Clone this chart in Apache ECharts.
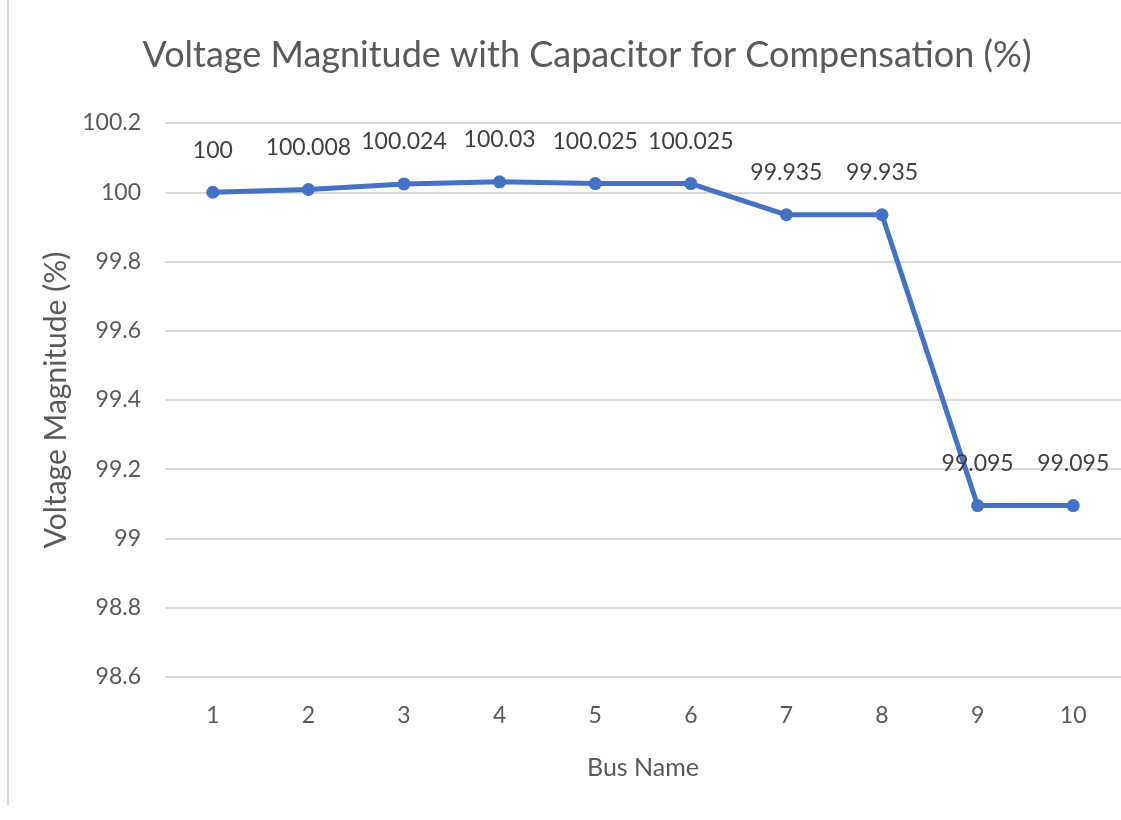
<!DOCTYPE html>
<html>
<head>
<meta charset="utf-8">
<script src="https://cdn.jsdelivr.net/npm/echarts@6/dist/echarts.min.js"></script>
<style>
html, body { margin: 0; padding: 0; background: #fff; }
#main { width: 1121px; height: 820px; }
</style>
</head>
<body>
<div id="main"></div>
<script>
var busNames = ['1', '2', '3', '4', '5', '6', '7', '8', '9', '10'];
var voltage = [100, 100.008, 100.024, 100.03, 100.025, 100.025, 99.935, 99.935, 99.095, 99.095];

var myChart = echarts.init(document.getElementById('main'));
var font = 'Lato, "Open Sans", sans-serif';

myChart.setOption({
    backgroundColor: '#fff',
    title: {
        text: 'Voltage Magnitude with Capacitor for Compensation (%)',
        left: 582,
        textAlign: 'center',
        top: 32,
        textStyle: { fontFamily: font, fontSize: 36, fontWeight: 'normal', color: '#595959' }
    },
    // 左侧细边框
    graphic: [{
        type: 'line',
        shape: { x1: 8, y1: 0, x2: 8, y2: 805 },
        style: { stroke: '#d9d9d9', lineWidth: 2 }
    }],
    grid: { left: 165, width: 960, top: 123, bottom: 143 },
    xAxis: {
        type: 'category',
        data: busNames,
        name: 'Bus Name',
        nameLocation: 'middle',
        nameGap: 78,
        nameTextStyle: { fontFamily: font, fontSize: 25, color: '#595959' },
        axisLine: { show: false },
        axisTick: { show: false },
        axisLabel: { fontFamily: font, fontSize: 23, color: '#595959', margin: 27 }
    },
    yAxis: {
        type: 'value',
        min: 98.6,
        max: 100.2,
        interval: 0.2,
        name: 'Voltage Magnitude (%)',
        nameLocation: 'middle',
        nameGap: 93,
        nameTextStyle: { fontFamily: font, fontSize: 30, color: '#595959' },
        axisLine: { show: false },
        axisTick: { show: false },
        axisLabel: {
            fontFamily: font, fontSize: 23, color: '#595959', margin: 24,
            formatter: function (v) { return String(+v.toFixed(1)); }
        },
        splitLine: { lineStyle: { color: '#d9d9d9', width: 2 } }
    },
    series: [{
        name: 'Voltage',
        type: 'line',
        data: voltage,
        symbol: 'circle',
        symbolSize: 13,
        itemStyle: { color: '#4472C4' },
        lineStyle: { color: '#4472C4', width: 5 },
        label: {
            show: true,
            position: 'top',
            distance: 24,
            fontFamily: font,
            fontSize: 23,
            color: '#404040'
        }
    }]
});
</script>
</body>
</html>
